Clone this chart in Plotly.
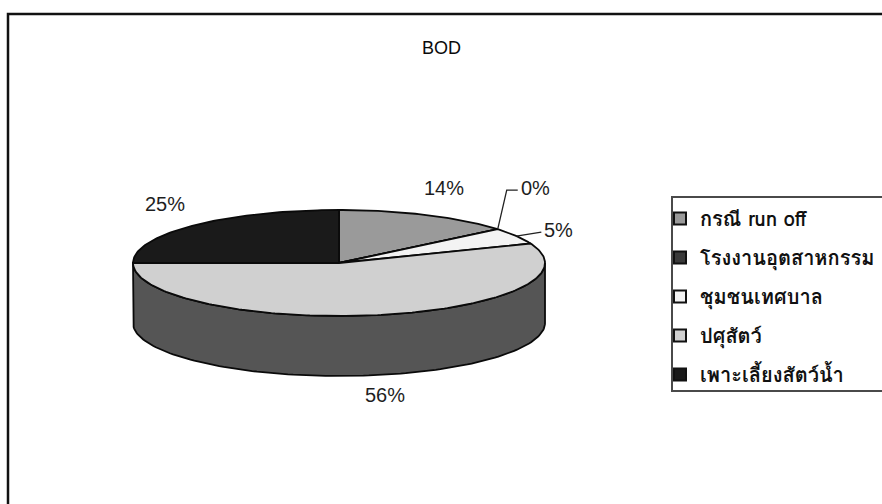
import numpy as np
import plotly.graph_objects as go

# --- data ---------------------------------------------------------------
categories = ["กรณี run off", "โรงงานอุตสาหกรรม", "ชุมชนเทศบาล", "ปศุสัตว์", "เพาะเลี้ยงสัตว์น้ำ"]
shares = [14, 0, 5, 56, 25]
top_colors = ["#9a9a9a", "#3a3a3a", "#f3f3f3", "#d0d0d0", "#1a1a1a"]
side_colors = ["#5e5e5e", "#262626", "#8c8c8c", "#555555", "#101010"]
chart_title = "BOD"

# --- geometry of the tilted pie (pixel space) ----------------------------
W, H = 882, 504
CX, CY = 339, 263          # centre of the top face
RX, RY = 206, 53           # semi-axes of the top ellipse
DEPTH = 60                 # thickness of the disc
LABEL_FONT = dict(family="Liberation Sans, Arial, sans-serif", size=20, color="#1e1e1e")
THAI_FONT = "Loma, Noto Sans Thai, Garuda, Tlwg Typo, Noto Sans, DejaVu Sans, sans-serif"

# legend frame (pixel space)
LEG_LEFT, LEG_TOP, LEG_BOTTOM = 672, 197, 391


def ellipse(theta, dy=0.0):
    t = np.radians(theta)
    return CX + RX * np.cos(t), CY - RY * np.sin(t) + dy


total = float(sum(shares))
spans = []
angle = 90.0
for s in shares:
    sweep = 360.0 * s / total
    spans.append((angle, angle - sweep))
    angle -= sweep

fig = go.Figure()

# outer walls: only the front half (angles -180..0) is visible
for (t0, t1), col in zip(spans, side_colors):
    lo, hi = max(t1, -180.0), min(t0, 0.0)
    if lo >= hi:
        continue
    th = np.linspace(hi, lo, 120)
    xt, yt = ellipse(th)
    xb, yb = ellipse(th[::-1], DEPTH)
    fig.add_trace(go.Scatter(
        x=np.concatenate([xt, xb, xt[:1]]), y=np.concatenate([yt, yb, yt[:1]]),
        mode="lines", fill="toself", fillcolor=col,
        line=dict(color="#0a0a0a", width=1.8), hoverinfo="skip", showlegend=False))

# top faces
for (t0, t1), col, name, s in zip(spans, top_colors, categories, shares):
    th = np.linspace(t0, t1, max(2, int(abs(t0 - t1)) + 2))
    xa, ya = ellipse(th)
    fig.add_trace(go.Scatter(
        x=np.concatenate([[CX], xa, [CX]]), y=np.concatenate([[CY], ya, [CY]]),
        mode="lines", fill="toself", fillcolor=col,
        line=dict(color="#0a0a0a", width=1.8), name=name,
        hovertemplate=f"{name}: {s}%<extra></extra>", showlegend=False))

# percentage labels
leader = {1: [(9, -39), (20, -39)], 2: [(25, -4)]}
annotations = []
for i, ((t0, t1), s) in enumerate(zip(spans, shares)):
    mid = (t0 + t1) / 2.0
    text = f"{round(s / total * 100):d}%"
    if i in leader:
        ax, ay = ellipse(mid)
        pts = [(ax, ay)] + [(ax + dx, ay + dy) for dx, dy in leader[i]]
        fig.add_trace(go.Scatter(
            x=[p[0] for p in pts], y=[p[1] for p in pts], mode="lines",
            line=dict(color="#222222", width=1.3), hoverinfo="skip", showlegend=False))
        ex, ey = pts[-1]
        annotations.append(dict(x=ex + 1, y=ey - 2, text=text, showarrow=False,
                                xanchor="left", yanchor="middle", font=LABEL_FONT))
    else:
        r = np.radians(mid)
        lx = CX + (RX + 40) * np.cos(r)
        ly = CY - (RY + 30) * np.sin(r) + (DEPTH - 10 if np.sin(r) < 0 else 0)
        annotations.append(dict(x=lx, y=ly, text=text, showarrow=False,
                                xanchor="center", yanchor="middle", font=LABEL_FONT))

# legend entries
for i, (name, col) in enumerate(zip(categories, top_colors)):
    fig.add_trace(go.Scatter(
        x=[None], y=[None], mode="markers", name=name, legendgroup=str(i),
        marker=dict(symbol="square", size=12, color=col, line=dict(color="#111111", width=1.8))))

annotations.append(dict(x=441, y=48, text=chart_title, showarrow=False,
                        xanchor="center", yanchor="middle",
                        font=dict(family="Liberation Sans, Arial, sans-serif", size=18, color="#0a0a0a")))

fig.update_layout(
    width=W, height=H,
    margin=dict(l=0, r=0, t=0, b=0, autoexpand=False),
    paper_bgcolor="white", plot_bgcolor="white",
    xaxis=dict(range=[0, W], visible=False, fixedrange=True),
    yaxis=dict(range=[H, 0], visible=False, fixedrange=True),
    annotations=annotations,
    showlegend=True,
    legend=dict(xref="container", yref="container",
                x=(LEG_LEFT - 12) / W, y=1 - (LEG_TOP + 2) / H, xanchor="left", yanchor="top",
                bgcolor="rgba(0,0,0,0)", borderwidth=0,
                font=dict(family=THAI_FONT, size=20, color="#111111", weight="bold"),
                tracegroupgap=10, itemsizing="constant"),
    shapes=[
        dict(type="rect", xref="paper", yref="paper",
             x0=8 / W, x1=1.05, y0=-0.05, y1=1 - 14 / H,
             line=dict(color="#111111", width=2.5), fillcolor="rgba(0,0,0,0)", layer="below"),
        dict(type="rect", xref="x", yref="y",
             x0=LEG_LEFT, x1=W + 20, y0=LEG_TOP, y1=LEG_BOTTOM,
             line=dict(color="#4a4a4a", width=2), fillcolor="rgba(0,0,0,0)", layer="below"),
    ],
)

fig.write_html("out.html")
